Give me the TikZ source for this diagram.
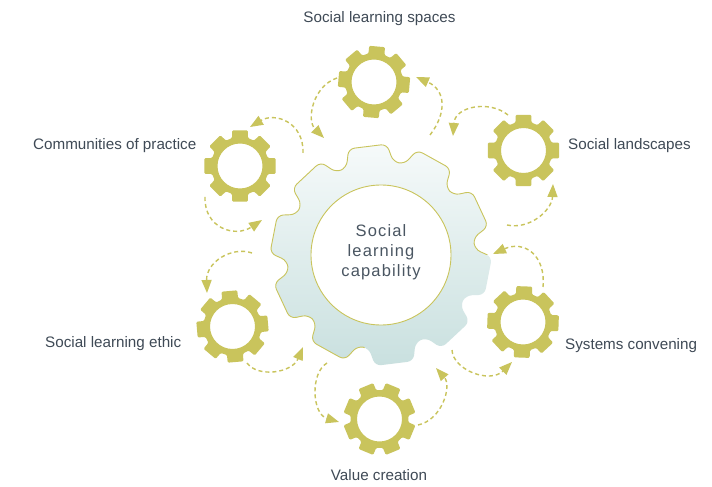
\documentclass[tikz,border=0pt]{standalone}
\usepackage{fontspec}
\setmainfont{Liberation Sans}
\newfontfamily\centerfont[LetterSpace=7]{Liberation Sans}
\usetikzlibrary{arrows.meta}
\definecolor{olivec}{HTML}{C9C45C}
\definecolor{txt}{HTML}{3F4A56}
\definecolor{ctxt}{HTML}{4A5662}
\definecolor{gtop}{HTML}{F6FAFA}
\definecolor{gbot}{HTML}{C9E0DF}
% #1 teeth, #2 teeth-1, #3 root r, #4 outer r, #5 top half angle, #6 root half angle, #7 rotation
\newcommand\gearpath[7]{%
  ({#7-#5}:#4) -- ({#7+#5}:#4) -- ({#7+#6}:#3)
  \foreach \k in {1,...,#2}{
    -- ({#7+360/#1*\k-#6}:#3) -- ({#7+360/#1*\k-#5}:#4)
    -- ({#7+360/#1*\k+#5}:#4) -- ({#7+360/#1*\k+#6}:#3)}
  -- ({#7+360-#6}:#3) -- cycle}
\newcommand\smallcog[2]{%
  \begin{scope}[shift={(#1)}]
    \fill[cog] \gearpath{8}{7}{29}{36.5}{12.5}{16}{#2} (0,0) circle (22.5);
  \end{scope}}
\begin{document}
\begin{tikzpicture}[x=1bp,y=-1bp,
  cog/.style={fill=olivec, even odd rule, rounded corners=1.2bp},
  flow/.style={draw=olivec, line width=1.4bp, dash pattern=on 4bp off 3bp,
    -{Triangle[length=13bp,width=10bp]}},
  lab/.style={font=\fontsize{15.2bp}{18bp}\selectfont, text=txt, inner sep=0pt}]
\useasboundingbox (0,0) rectangle (712,487);
\fill[white] (0,0) rectangle (712,487);

% gear centres
\coordinate (g0) at (381,255);
\coordinate (g1) at (374,82);
\coordinate (g2) at (523.5,150.5);
\coordinate (g3) at (523,322);
\coordinate (g4) at (379.5,419);
\coordinate (g5) at (232.5,326.5);
\coordinate (g6) at (240,166);

% central gear
\begin{scope}[shift={(g0)}]
  \shade[top color=gtop, bottom color=gbot, rounded corners=6bp]
    \gearpath{10}{9}{94}{111}{10}{14.5}{-97};
  \begin{scope}
    \clip (0,0) -- (100:200) -- (180:200) -- (270:200) -- (360:200) -- cycle;
    \draw[olivec, line width=0.9bp, rounded corners=6bp]
      \gearpath{10}{9}{94}{111}{10}{14.5}{-97};
  \end{scope}
  \draw[olivec, line width=0.9bp, fill=white] (0,0) circle (70);
\end{scope}
\node[align=center, font=\centerfont\fontsize{16.5bp}{20bp}\selectfont, text=ctxt] (lc) at (381,252) {Social\\learning\\capability};

% small gears
\smallcog{g1}{-85}
\smallcog{g2}{-90}
\smallcog{g3}{-88}
\smallcog{g4}{-67.5}
\smallcog{g5}{-95}
\smallcog{g6}{-90}

% arrow end points
\coordinate (a1s) at (337,78);   \coordinate (a1e) at (324,138);
\coordinate (a2s) at (303,153);  \coordinate (a2e) at (250,127);
\coordinate (a3s) at (205,197);  \coordinate (a3e) at (262,220);
\coordinate (a4s) at (252,253);  \coordinate (a4e) at (207,293);
\coordinate (a5s) at (247,363);  \coordinate (a5e) at (303,347);
\coordinate (a6s) at (327,363);  \coordinate (a6e) at (339,422);
\coordinate (a7s) at (418,425);  \coordinate (a7e) at (436,368);
\coordinate (a8s) at (452,350);  \coordinate (a8e) at (512,362);
\coordinate (a9s) at (543,287);  \coordinate (a9e) at (493,254);
\coordinate (a10s) at (507,225); \coordinate (a10e) at (553,184);
\coordinate (a11s) at (508,115); \coordinate (a11e) at (453,136);
\coordinate (a12s) at (430,135); \coordinate (a12e) at (416,77);

\draw[flow] (a1s) .. controls (313,86) and (306,120) .. (a1e);
\draw[flow] (a2s) .. controls (304,122) and (275,112) .. (a2e);
\draw[flow] (a3s) .. controls (204,228) and (235,238) .. (a3e);
\draw[flow] (a4s) .. controls (232,246) and (206,262) .. (a4e);
\draw[flow] (a5s) .. controls (258,378) and (292,373) .. (a5e);
\draw[flow] (a6s) .. controls (310,373) and (312,414) .. (a6e);
\draw[flow] (a7s) .. controls (442,420) and (452,386) .. (a7e);
\draw[flow] (a8s) .. controls (453,370) and (490,384) .. (a8e);
\draw[flow] (a9s) .. controls (546,255) and (524,240) .. (a9e);
\draw[flow] (a10s) .. controls (530,230) and (552,210) .. (a10e);
\draw[flow] (a11s) .. controls (490,100) and (455,106) .. (a11e);
\draw[flow] (a12s) .. controls (447,113) and (446,90) .. (a12e);

% labels
\node[lab, anchor=base] (l1) at (379.5,23) {Social learning spaces};
\node[lab, anchor=base west] (l2) at (568,150) {Social landscapes};
\node[lab, anchor=base west] (l3) at (565,349) {Systems convening};
\node[lab, anchor=base] (l4) at (379,480) {Value creation};
\node[lab, anchor=base west] (l5) at (45,347) {Social learning ethic};
\node[lab, anchor=base west] (l6) at (33,150) {Communities of practice};
\end{tikzpicture}
\end{document}
